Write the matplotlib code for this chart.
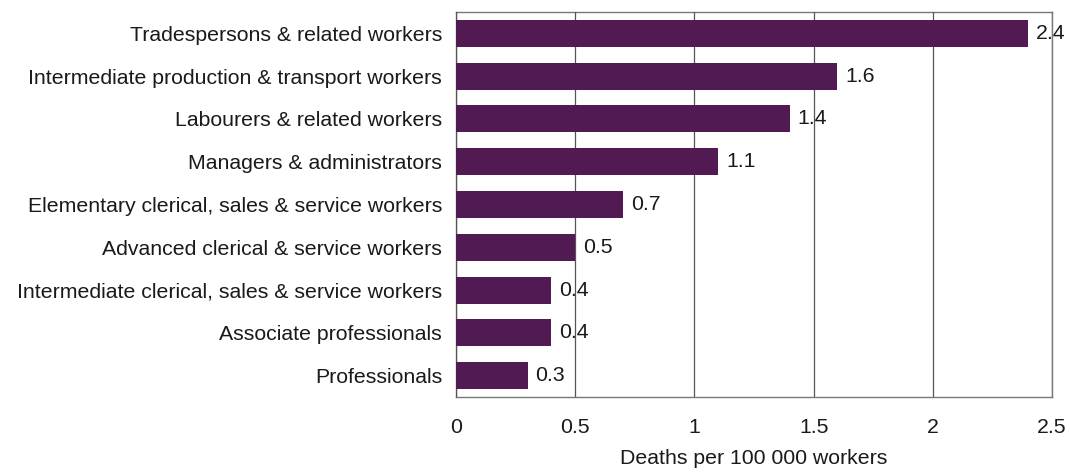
import matplotlib.pyplot as plt

plt.rcParams['font.family'] = ['Liberation Sans', 'DejaVu Sans']

occupations = [
    "Tradespersons & related workers",
    "Intermediate production & transport workers",
    "Labourers & related workers",
    "Managers & administrators",
    "Elementary clerical, sales & service workers",
    "Advanced clerical & service workers",
    "Intermediate clerical, sales & service workers",
    "Associate professionals",
    "Professionals",
]
death_rates = [2.4, 1.6, 1.4, 1.1, 0.7, 0.5, 0.4, 0.4, 0.3]
x_ticks = [0, 0.5, 1, 1.5, 2, 2.5]
x_tick_labels = ["0", "0.5", "1", "1.5", "2", "2.5"]

fs = 15.3
fig = plt.figure(figsize=(10.7, 4.72), dpi=100)
ax = fig.add_axes([0.4262, 0.1589, 0.5570, 0.8157])

ypos = list(range(len(occupations)))
ax.barh(ypos, death_rates, height=0.63, color="#521a52", zorder=3)

# value labels sit under the grid lines
for y, v in zip(ypos, death_rates):
    ax.text(v + 0.033, y, str(v), va="center", ha="left", fontsize=fs,
            color="#1a1a1a", zorder=1)

ax.set_xlim(0, 2.5)
ax.set_ylim(len(occupations) - 0.5, -0.5)
ax.set_xticks(x_ticks)
ax.set_xticklabels(x_tick_labels)
ax.set_yticks(ypos)
ax.set_yticklabels(occupations)
ax.tick_params(axis="both", length=0, labelsize=fs, colors="#1a1a1a")
ax.tick_params(axis="x", pad=15)
ax.tick_params(axis="y", pad=10)

ax.xaxis.grid(True, color="#555555", linewidth=0.9, zorder=2)
ax.set_axisbelow(False)
for s in ax.spines.values():
    s.set_color("#777777")
    s.set_linewidth(1.0)
    s.set_zorder(2.5)

ax.set_xlabel("Deaths per 100 000 workers", fontsize=fs, color="#1a1a1a", labelpad=9)

plt.savefig("out.png", dpi=100)
